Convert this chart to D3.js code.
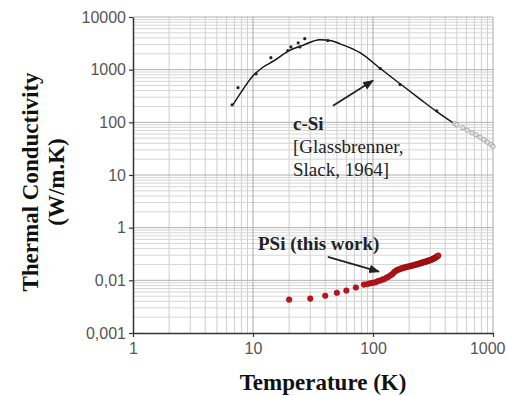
<!DOCTYPE html>
<meta charset="utf-8">
<style>
body { margin: 0; background: #fff; }
.axis .domain { stroke: #333; stroke-width: 1.5px; }
.axis .tick line { stroke: #333; stroke-width: 1.2px; }
.axis text { font: 16px "Liberation Sans", Arial, sans-serif; fill: #555; }
.title { font-family: "Liberation Serif", "Times New Roman", serif; font-weight: bold; fill: #111; }
.note { font-family: "Liberation Serif", "Times New Roman", serif; fill: #222; font-size: 19px; }
</style>
<svg width="506" height="396"></svg>
<script src="https://d3js.org/d3.v7.min.js"></script>
<script>
// tick values and the labels printed on the original
var yTickValues = [10000, 1000, 100, 10, 1, 0.1, 0.01];
var yTickLabels = ["10000", "1000", "100", "10", "1", "0,01", "0,001"];
var xTickValues = [1, 10, 100, 1000];
var xTickLabels = ["1", "10", "100", "1000"];

// c-Si reference curve (Glassbrenner & Slack)
var csiCurveT = [6.8, 8, 10, 12, 15, 20, 26, 36, 45, 53, 78, 115, 168, 250, 340, 464];
var csiCurveK = [215, 380, 765, 1100, 1480, 2300, 2900, 3700, 3550, 3100, 2100, 1050, 540, 270, 160, 98];
// c-Si measured points
var csiPtsT = [6.7, 7.5, 10.6, 14.1, 19.5, 20.7, 23.8, 24.6, 27, 42, 115, 168, 340];
var csiPtsK = [215, 455, 835, 1690, 2300, 2700, 3230, 2700, 3880, 3560, 1050, 520, 166];
// c-Si high temperature points (grey)
var csiExtT = [480, 500, 560, 610, 670, 720, 780, 840, 900, 960, 1000];
var csiExtK = [94, 90, 79, 71, 63, 58, 52, 47, 42, 38, 35];

// PSi (this work)
var psiT = [20, 30, 40, 50, 60, 72, 84, 90, 95, 100, 105, 110, 115, 120, 125, 130, 135, 140, 145,
  150, 155, 160, 165, 170, 175, 180, 185, 190, 195, 200, 205, 210, 215, 220, 225, 230, 235, 240,
  245, 250, 255, 260, 265, 270, 275, 280, 285, 290, 295, 300, 305, 310, 315, 320, 325, 330, 335,
  340, 345, 350];
var psiK = [0.043, 0.045, 0.051, 0.058, 0.064, 0.073, 0.083, 0.085, 0.088, 0.090, 0.092, 0.097, 0.099,
  0.104, 0.106, 0.113, 0.117, 0.125, 0.131, 0.143, 0.151, 0.158, 0.161, 0.167, 0.169, 0.174, 0.175,
  0.180, 0.181, 0.185, 0.186, 0.190, 0.191, 0.196, 0.197, 0.201, 0.202, 0.207, 0.208, 0.213, 0.214,
  0.219, 0.220, 0.225, 0.226, 0.231, 0.232, 0.237, 0.238, 0.243, 0.245, 0.251, 0.253, 0.259, 0.262,
  0.269, 0.273, 0.282, 0.287, 0.296];

var svg = d3.select("svg");

var x = d3.scaleLog().domain([1, 1000]).range([133, 493]);
var y = d3.scaleLog().domain([0.01, 10000]).range([333, 17]);

// grid: minor then major
var grid = svg.append("g");
var xMinor = [], yMinor = [];
[1, 10, 100].forEach(function(d) { for (var m = 2; m <= 9; m++) xMinor.push(d * m); });
[0.01, 0.1, 1, 10, 100, 1000].forEach(function(d) { for (var m = 2; m <= 9; m++) yMinor.push(d * m); });

grid.selectAll(".vx").data(xMinor).enter().append("line")
    .attr("x1", x).attr("x2", x).attr("y1", y(0.01)).attr("y2", y(10000))
    .attr("stroke", "#cfcfcf").attr("stroke-width", 1);
grid.selectAll(".hy").data(yMinor).enter().append("line")
    .attr("y1", y).attr("y2", y).attr("x1", x(1)).attr("x2", x(1000))
    .attr("stroke", "#d6d6d6").attr("stroke-width", 1);
grid.selectAll(".vmaj").data(xTickValues.slice(1)).enter().append("line")
    .attr("x1", x).attr("x2", x).attr("y1", y(0.01)).attr("y2", y(10000))
    .attr("stroke", "#a8a8a8").attr("stroke-width", 1);
grid.selectAll(".hmaj").data(yTickValues.slice(0, -1)).enter().append("line")
    .attr("y1", y).attr("y2", y).attr("x1", x(1)).attr("x2", x(1000))
    .attr("stroke", "#b0b0b0").attr("stroke-width", 1);

// axes
svg.append("g")
    .attr("class", "axis")
    .attr("transform", "translate(" + x(1) + ",0)")
    .call(d3.axisLeft(y).tickValues(yTickValues).tickSize(4).tickSizeOuter(0).tickPadding(3)
      .tickFormat(function(d, i) { return yTickLabels[i]; }));

var xAxis = svg.append("g")
    .attr("class", "axis")
    .attr("transform", "translate(0," + y(0.01) + ")")
    .call(d3.axisBottom(x).tickValues(xTickValues).tickSize(4).tickSizeOuter(0).tickPadding(6)
      .tickFormat(function(d, i) { return xTickLabels[i]; }));
// last label sits against the right edge
xAxis.selectAll(".tick text").filter(function(d) { return d === 1000; })
    .attr("text-anchor", "end").attr("dx", "12");

// c-Si curve
var line = d3.line()
    .x(function(d) { return x(d[0]); })
    .y(function(d) { return y(d[1]); })
    .curve(d3.curveMonotoneX);

svg.append("path")
    .datum(d3.zip(csiCurveT, csiCurveK))
    .attr("d", line)
    .attr("fill", "none")
    .attr("stroke", "#111")
    .attr("stroke-width", 1.4);

svg.append("g").selectAll("circle")
    .data(d3.zip(csiPtsT, csiPtsK))
    .enter().append("circle")
      .attr("cx", function(d) { return x(d[0]); })
      .attr("cy", function(d) { return y(d[1]); })
      .attr("r", 1.6)
      .attr("fill", "#222");

svg.append("g").selectAll("circle")
    .data(d3.zip(csiExtT, csiExtK))
    .enter().append("circle")
      .attr("cx", function(d) { return x(d[0]); })
      .attr("cy", function(d) { return y(d[1]); })
      .attr("r", 2.2)
      .attr("fill", "#e4e4e4")
      .attr("stroke", "#999")
      .attr("stroke-width", 0.8);

// PSi points
svg.append("g").selectAll("circle")
    .data(d3.zip(psiT, psiK))
    .enter().append("circle")
      .attr("cx", function(d) { return x(d[0]); })
      .attr("cy", function(d) { return y(d[1]); })
      .attr("r", 2.8)
      .attr("fill", "#c0141a")
      .attr("stroke", "#7a0a0a")
      .attr("stroke-width", 0.5);

// arrows
svg.append("defs").append("marker")
    .attr("id", "head")
    .attr("viewBox", "0 0 10 10")
    .attr("refX", 9).attr("refY", 5)
    .attr("markerWidth", 6).attr("markerHeight", 6)
    .attr("orient", "auto")
  .append("path")
    .attr("d", "M0,1L10,5L0,9z")
    .attr("fill", "#222");

var arrows = [
  { from: [46.4, 206], to: [100, 620] },
  { from: [42, 0.28], to: [112, 0.146] }
];
svg.append("g").selectAll("line")
    .data(arrows)
    .enter().append("line")
      .attr("x1", function(d) { return x(d.from[0]); })
      .attr("y1", function(d) { return y(d.from[1]); })
      .attr("x2", function(d) { return x(d.to[0]); })
      .attr("y2", function(d) { return y(d.to[1]); })
      .attr("stroke", "#222")
      .attr("stroke-width", 1.8)
      .attr("marker-end", "url(#head)");

// labels
svg.append("text").attr("class", "note").attr("x", 293).attr("y", 130)
    .attr("font-weight", "bold").text("c-Si");
svg.append("text").attr("class", "note").attr("x", 293).attr("y", 153).text("[Glassbrenner,");
svg.append("text").attr("class", "note").attr("x", 293).attr("y", 176).text("Slack, 1964]");
svg.append("text").attr("class", "note").attr("x", 258).attr("y", 250)
    .attr("font-weight", "bold").attr("font-size", "18px").text("PSi (this work)");

// axis titles
svg.append("text").attr("class", "title")
    .attr("x", 323).attr("y", 390)
    .attr("text-anchor", "middle")
    .attr("font-size", "23px")
    .text("Temperature (K)");

var yt = svg.append("text").attr("class", "title")
    .attr("transform", "translate(38,182) rotate(-90)")
    .attr("text-anchor", "middle")
    .attr("font-size", "23px");
yt.append("tspan").attr("x", 0).attr("y", 0).text("Thermal Conductivity");
yt.append("tspan").attr("x", 0).attr("y", 26).text("(W/m.K)");
</script>
